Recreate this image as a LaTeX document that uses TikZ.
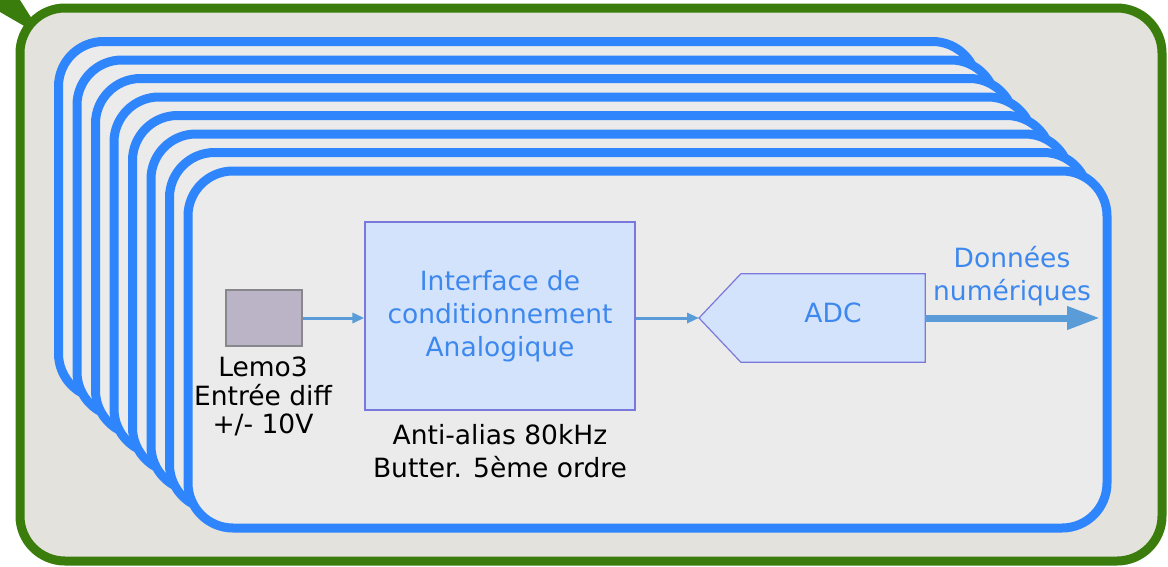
\documentclass[tikz,border=0pt]{standalone}
\usepackage{fontspec}
\setmainfont{DejaVu Sans}
\usetikzlibrary{arrows.meta}

\definecolor{frameGreen}{RGB}{58,125,12}
\definecolor{frameFill}{RGB}{227,226,220}
\definecolor{cardBlue}{RGB}{46,133,252}
\definecolor{cardFill}{RGB}{235,235,235}
\definecolor{boxFill}{RGB}{211,227,251}
\definecolor{boxEdge}{RGB}{123,120,220}
\definecolor{textBlue}{RGB}{61,136,238}
\definecolor{arrowBlue}{RGB}{90,156,216}
\definecolor{lemoFill}{RGB}{187,180,198}
\definecolor{lemoEdge}{RGB}{136,136,140}

\pgfdeclarelayer{base}
\pgfdeclarelayer{shape}
\pgfsetlayers{base,shape,main}

\tikzset{
  outerframe/.style={draw=frameGreen, fill=frameFill, line width=9pt, rounded corners=45pt},
  card/.style={draw=cardBlue, fill=cardFill, line width=9pt, rounded corners=45pt},
  lemobox/.style={draw=lemoEdge, fill=lemoFill, line width=1.5pt, minimum width=76pt, minimum height=56pt, inner sep=0pt},
  blockbox/.style={draw=boxEdge, fill=boxFill, line width=1.2pt, text=textBlue, align=center, inner sep=0pt},
  blktext/.style={text=black, align=center, inner sep=0pt},
  bluetext/.style={text=textBlue, align=center, inner sep=0pt},
  thinarrow/.style={draw=arrowBlue, line width=3pt, -{Triangle[length=12pt,width=10pt]}},
  thickarrow/.style={draw=arrowBlue, line width=7pt, -{Triangle[length=33pt,width=22pt]}},
}

\begin{document}
\begin{tikzpicture}[x=1pt, y=-1pt, font=\fontsize{26.5}{33}\selectfont]
\useasboundingbox (0,0) rectangle (1168,566);

\begin{pgfonlayer}{base}
  % pointer tail of the outer frame
  \fill[frameGreen] (0,0) -- (20,0) -- (32,19) -- (26,27) -- (0,12) -- cycle;
  % outer frame
  \path[outerframe] (20,8) rectangle (1162,561);
  % stack of identical channels, back to front
  \foreach \k in {7,6,...,0}{
    \path[card] (188-18.5*\k, 171-18.5*\k) rectangle +(919,357);
  }
\end{pgfonlayer}

% connector input
\node[lemobox] (lemo) at (264,318) {};
\node[blktext, anchor=north, font=\fontsize{26.5}{28.5}\selectfont] (lemotxt) at (263,357) {Lemo3\\Entrée diff\\+/- 10V};

% conditioning stage
\node[blockbox, minimum width=270pt, minimum height=188pt] (iface) at (500,316) {Interface de\\conditionnement\\Analogique};
\node[blktext] (filt) at (500,451) {Anti-alias 80kHz\\Butter. 5ème ordre};

% converter
\node[bluetext, minimum width=184pt, minimum height=88pt, text depth=10pt] (adc) at (833,318) {ADC};
\coordinate (adcin) at (699,318);
\begin{pgfonlayer}{shape}
  \path[draw=boxEdge, fill=boxFill, line width=1.2pt]
    (adc.north east) -- (adc.north west) -- (adcin) -- (adc.south west) -- (adc.south east) -- cycle;
\end{pgfonlayer}

% output
\coordinate (dout) at (1100,318);
\node[bluetext] (dlbl) at (1012,276) {Données\\numériques};

% signal flow
\draw[thinarrow] (lemo.east) -- (lemo.east -| iface.west);
\draw[thinarrow] (adcin -| iface.east) -- (adcin);
\draw[thickarrow] (adc.east) -- (dout);
\end{tikzpicture}
\end{document}
